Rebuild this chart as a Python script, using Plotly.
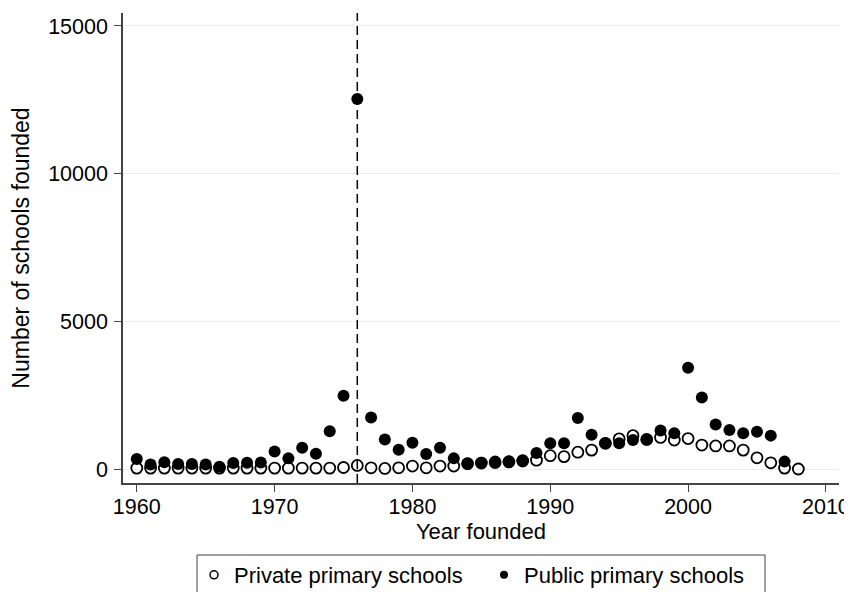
import plotly.graph_objects as go

years_private = list(range(1960, 2009))
private_schools = [
    30, 30, 30, 30, 30, 30, 30, 30, 30, 30,      # 1960-1969
    30, 30, 30, 30, 30, 50, 120, 40, 20, 40,     # 1970-1979
    100, 40, 100, 100, 180, 200, 220, 240, 270, 300,  # 1980-1989
    450, 420, 570, 640, 870, 1020, 1130, 1000, 1070, 980,  # 1990-1999
    1030, 810, 780, 780, 640, 380, 210, 30, 0    # 2000-2008
]

years_public = list(range(1960, 2008))
public_schools = [
    340, 150, 225, 170, 170, 150, 80, 200, 210, 220,   # 1960-1969
    590, 360, 720, 520, 1280, 2480, 12530, 1740, 1000, 650,  # 1970-1979
    890, 510, 720, 360, 190, 210, 250, 260, 300, 540,  # 1980-1989
    870, 870, 1730, 1160, 870, 870, 980, 1000, 1300, 1210,  # 1990-1999
    3430, 2420, 1510, 1320, 1210, 1260, 1130, 250      # 2000-2007
]

series_names = ["Private primary schools", "Public primary schools"]
event_year = 1976
x_ticks = [1960, 1970, 1980, 1990, 2000, 2010]
y_ticks = [0, 5000, 10000, 15000]

FONT = "Liberation Sans, Arial, Helvetica, sans-serif"
AXIS_COLOR = "#444"

# the page body has an 8px margin, so the figure is drawn 8px in from the window corner
OFF = 8
W, H = 852 - OFF, 592 - OFF
ML, MR, MT, MB = 123 - OFF, 13, 13 - OFF, 109
PW, PH = W - ML - MR, H - MT - MB


def px_x(p):  # window pixel -> paper fraction
    return (p - OFF - ML) / PW


def px_y(p):
    return (H - MB - (p - OFF)) / PH


fig = go.Figure()
fig.add_trace(go.Scatter(
    x=years_private, y=private_schools, mode="markers", showlegend=False,
    marker=dict(symbol="circle-open", size=11, color="black", line=dict(width=1.8, color="black")),
))
fig.add_trace(go.Scatter(
    x=years_public, y=public_schools, mode="markers", showlegend=False,
    marker=dict(symbol="circle", size=12, color="black"),
))
# legend-only entries with small symbols, as in the reference
fig.add_trace(go.Scatter(
    x=[None], y=[None], mode="markers", name=series_names[0],
    marker=dict(symbol="circle-open", size=8, color="black", line=dict(width=1.5, color="black")),
))
fig.add_trace(go.Scatter(
    x=[None], y=[None], mode="markers", name=series_names[1],
    marker=dict(symbol="circle", size=8, color="black"),
))

fig.add_shape(type="line", xref="x", yref="paper", x0=event_year, x1=event_year, y0=0, y1=1,
              line=dict(color="black", width=1.5, dash="9px,5px"))
# legend frame
fig.add_shape(type="rect", xref="paper", yref="paper",
              x0=px_x(197), x1=px_x(765), y0=px_y(620), y1=px_y(555),
              line=dict(color=AXIS_COLOR, width=1), fillcolor="rgba(0,0,0,0)", layer="above")

fig.update_layout(
    width=W, height=H,
    margin=dict(l=ML, r=MR, t=MT, b=MB, autoexpand=False),
    paper_bgcolor="white", plot_bgcolor="white",
    font=dict(family=FONT, size=21, color="black"),
    showlegend=True,
    legend=dict(
        orientation="h",
        x=px_x(194), xanchor="left", y=px_y(554), yanchor="top",
        borderwidth=0, font=dict(size=22), bgcolor="rgba(0,0,0,0)",
        itemsizing="trace", entrywidth=245, entrywidthmode="pixels",
    ),
    xaxis=dict(
        range=[1959.0, 2010.95], tickvals=x_ticks, ticks="outside", ticklen=7, tickwidth=1.3,
        tickcolor=AXIS_COLOR, showline=True, linecolor=AXIS_COLOR, linewidth=1.5,
        showgrid=False, zeroline=False, tickfont=dict(size=21.5), ticklabeloverflow="allow",
        ticklabelstandoff=-4,
        title=dict(text="Year founded", standoff=0, font=dict(size=22)),
    ),
    yaxis=dict(
        range=[-474, 15440], tickvals=y_ticks, tickformat="d", ticks="outside", ticklen=7, tickwidth=1.3,
        tickcolor=AXIS_COLOR, showline=True, linecolor=AXIS_COLOR, linewidth=1.5, ticklabelstandoff=2,
        showgrid=True, gridcolor="#ececec", gridwidth=1, zeroline=False, tickfont=dict(size=21.5),
        title=dict(text="Number of schools founded", standoff=14, font=dict(size=23)),
    ),
)

fig.write_html("out.html")
